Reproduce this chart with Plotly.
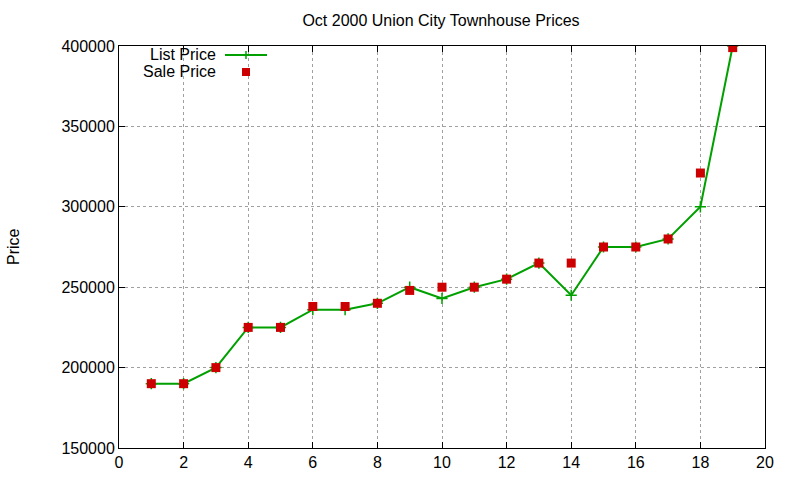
import plotly.graph_objects as go

# dados
lote = list(range(1, 20))
preco_lista = [190000, 190000, 200000, 225000, 225000, 236000, 236000, 240000, 250000, 243000,
               250000, 255000, 265000, 245000, 275000, 275000, 280000, 300000, 400000]
preco_venda = [190000, 190000, 200000, 225000, 225000, 238000, 238000, 240000, 248000, 250000,
               250000, 255000, 265000, 265000, 275000, 275000, 280000, 321000, 399000]

VERDE = "#00a000"
VERMELHO = "#cc0000"
FONTE = "Liberation Sans, Arial, sans-serif"

fig = go.Figure()

fig.add_trace(
    go.Scatter(
        x=lote,
        y=preco_lista,
        mode="lines+markers",
        name="List Price",
        line=dict(color=VERDE, width=2),
        marker=dict(symbol="cross-thin", size=8, line=dict(color=VERDE, width=1.5)),
    )
)

fig.add_trace(
    go.Scatter(
        x=lote,
        y=preco_venda,
        mode="markers",
        name="Sale Price",
        marker=dict(symbol="square", size=9, color=VERMELHO),
    )
)

# --- legenda no estilo gnuplot (texto à esquerda, amostra à direita) ---
W, H = 646.0, 402.0  # tamanho da área de plotagem em px


def px(x):
    return (x - 119) / W


def py(y):
    return (448 - y) / H


shapes = [
    dict(type="line", xref="paper", yref="paper", x0=px(225), x1=px(267), y0=py(55), y1=py(55),
         line=dict(color=VERDE, width=2)),
    dict(type="line", xref="paper", yref="paper", x0=px(246), x1=px(246), y0=py(51), y1=py(59),
         line=dict(color=VERDE, width=1.5)),
    dict(type="rect", xref="paper", yref="paper", x0=px(242), x1=px(250), y0=py(68), y1=py(76),
         line=dict(width=0), fillcolor=VERMELHO),
]

annotations = [
    dict(text="List Price", xref="paper", yref="paper", x=px(218), y=py(55),
         xanchor="right", yanchor="middle", showarrow=False, font=dict(size=16, color="black")),
    dict(text="Sale Price", xref="paper", yref="paper", x=px(218), y=py(71),
         xanchor="right", yanchor="middle", showarrow=False, font=dict(size=16, color="black")),
    dict(text="Price", xref="paper", yref="paper", x=px(13), y=0.5, textangle=-90,
         xanchor="center", yanchor="middle", showarrow=False, font=dict(size=16, color="black")),
]

fig.update_layout(
    width=800,
    height=480,
    title=dict(text="Oct 2000 Union City Townhouse Prices", x=441 / 800, xanchor="center",
               y=1 - 20 / 480, yanchor="middle", font=dict(size=16, color="black")),
    font=dict(family=FONTE, size=16, color="black"),
    plot_bgcolor="white",
    paper_bgcolor="white",
    showlegend=False,
    margin=dict(l=119, r=35, t=46, b=32),
    shapes=shapes,
    annotations=annotations,
)

eixo = dict(
    showline=True,
    linecolor="black",
    linewidth=1,
    mirror="allticks",
    ticks="inside",
    ticklen=6,
    tickcolor="black",
    showgrid=True,
    gridcolor="#a0a0a0",
    griddash="dot",
    gridwidth=1,
    zeroline=False,
    automargin=False,
)

fig.update_xaxes(range=[0, 20], dtick=2, tick0=0, **eixo)
fig.update_yaxes(range=[150000, 400000], dtick=50000, tick0=150000, tickformat="d", **eixo)

# tira a margem padrão do body para a figura ocupar a janela inteira
fig.write_html(
    "out.html",
    config={"displayModeBar": False},
    post_script="document.body.style.margin='0';",
)
